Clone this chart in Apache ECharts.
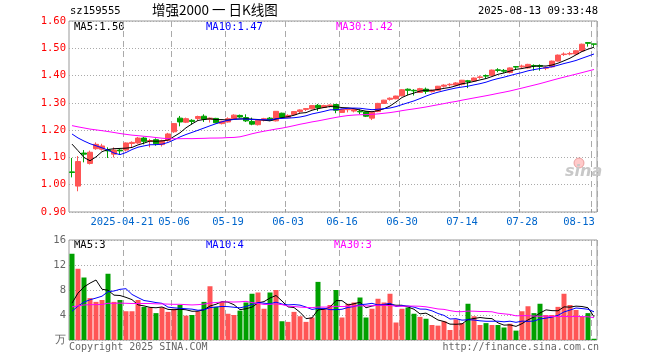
<!DOCTYPE html>
<html><head><meta charset="utf-8">
<script src="https://cdn.jsdelivr.net/npm/echarts/dist/echarts.min.js"></script>
<style>html,body{margin:0;padding:0;background:#fff}#c{width:660px;height:360px}</style>
</head><body><div id="c"></div><script>
// ---------- data ----------
const dates = [
'2025-04-08','2025-04-09','2025-04-10','2025-04-11','2025-04-14','2025-04-15','2025-04-16','2025-04-17','2025-04-18','2025-04-21','2025-04-22','2025-04-23','2025-04-24','2025-04-25','2025-04-28','2025-04-29','2025-04-30',
'2025-05-06','2025-05-07','2025-05-08','2025-05-09','2025-05-12','2025-05-13','2025-05-14','2025-05-15','2025-05-16','2025-05-19','2025-05-20','2025-05-21','2025-05-22','2025-05-23','2025-05-26','2025-05-27','2025-05-28','2025-05-29','2025-05-30',
'2025-06-03','2025-06-04','2025-06-05','2025-06-06','2025-06-09','2025-06-10','2025-06-11','2025-06-12','2025-06-13','2025-06-16','2025-06-17','2025-06-18','2025-06-19','2025-06-20','2025-06-23','2025-06-24','2025-06-25','2025-06-26','2025-06-27','2025-06-30',
'2025-07-01','2025-07-02','2025-07-03','2025-07-04','2025-07-07','2025-07-08','2025-07-09','2025-07-10','2025-07-11','2025-07-14','2025-07-15','2025-07-16','2025-07-17','2025-07-18','2025-07-21','2025-07-22','2025-07-23','2025-07-24','2025-07-25','2025-07-28','2025-07-29','2025-07-30','2025-07-31',
'2025-08-01','2025-08-04','2025-08-05','2025-08-06','2025-08-07','2025-08-08','2025-08-11','2025-08-12','2025-08-13'];
const openP = [1.047,0.995,1.116,1.078,1.132,1.130,1.127,1.112,1.127,1.127,1.151,1.153,1.171,1.159,1.165,1.147,1.162,
1.194,1.244,1.229,1.236,1.243,1.251,1.240,1.243,1.224,1.230,1.242,1.254,1.246,1.232,1.220,1.236,1.244,1.234,1.262,
1.246,1.257,1.268,1.276,1.278,1.291,1.283,1.289,1.294,1.265,1.275,1.270,1.269,1.267,1.244,1.268,1.298,1.313,1.315,1.326,
1.350,1.346,1.338,1.350,1.341,1.346,1.361,1.366,1.365,1.368,1.381,1.380,1.393,1.400,1.401,1.421,1.419,1.411,1.433,1.432,1.428,1.437,1.437,
1.427,1.432,1.453,1.477,1.479,1.479,1.490,1.521,1.516];
const highP = [1.098,1.105,1.127,1.125,1.155,1.150,1.137,1.137,1.131,1.155,1.159,1.175,1.175,1.168,1.170,1.165,1.190,
1.226,1.252,1.246,1.240,1.253,1.258,1.246,1.245,1.234,1.247,1.258,1.257,1.258,1.246,1.240,1.245,1.248,1.270,1.264,
1.258,1.270,1.276,1.281,1.292,1.296,1.293,1.294,1.296,1.278,1.278,1.278,1.276,1.268,1.267,1.300,1.311,1.320,1.326,1.350,
1.353,1.350,1.355,1.356,1.348,1.362,1.368,1.372,1.376,1.384,1.384,1.393,1.400,1.404,1.422,1.427,1.424,1.430,1.434,1.440,1.443,1.441,1.441,
1.433,1.455,1.477,1.485,1.487,1.493,1.517,1.522,1.517];
const lowP = [1.027,0.976,1.082,1.074,1.128,1.125,1.098,1.100,1.110,1.122,1.137,1.150,1.148,1.137,1.143,1.140,1.158,
1.190,1.214,1.226,1.220,1.235,1.230,1.228,1.225,1.221,1.228,1.240,1.245,1.230,1.218,1.217,1.232,1.233,1.232,1.244,
1.244,1.255,1.262,1.270,1.276,1.270,1.281,1.283,1.262,1.263,1.265,1.265,1.259,1.248,1.237,1.266,1.296,1.308,1.313,1.324,
1.328,1.327,1.336,1.333,1.338,1.344,1.356,1.360,1.362,1.364,1.354,1.378,1.388,1.388,1.399,1.412,1.410,1.408,1.422,1.428,1.426,1.418,1.418,
1.420,1.430,1.451,1.472,1.474,1.477,1.488,1.506,1.506];
const closeP = [1.045,1.085,1.112,1.119,1.148,1.142,1.124,1.127,1.124,1.153,1.155,1.171,1.159,1.162,1.150,1.161,1.186,
1.224,1.230,1.242,1.232,1.250,1.240,1.244,1.227,1.232,1.242,1.255,1.248,1.234,1.222,1.236,1.242,1.236,1.269,1.246,
1.254,1.268,1.274,1.279,1.290,1.282,1.290,1.292,1.273,1.276,1.277,1.276,1.267,1.251,1.266,1.298,1.310,1.317,1.325,1.348,
1.346,1.344,1.352,1.342,1.346,1.361,1.365,1.368,1.373,1.383,1.378,1.391,1.395,1.398,1.420,1.419,1.416,1.428,1.431,1.435,1.441,1.435,1.434,
1.430,1.453,1.475,1.479,1.481,1.491,1.515,1.518,1.515];
// volume, unit 万
const volume = [13.8,11.4,10.0,6.7,6.1,6.4,10.6,6.1,6.4,4.6,4.6,6.4,5.3,5.2,4.3,5.2,4.5,
5.0,5.6,3.9,4.0,4.6,6.1,8.6,5.3,6.1,4.2,4.0,4.7,6.0,7.4,7.6,5.0,7.6,8.0,3.0,
2.9,4.5,3.8,2.9,3.6,9.3,5.0,5.6,8.0,3.6,5.8,6.0,6.8,3.6,5.0,6.6,6.0,7.4,2.8,5.0,
5.2,4.2,3.7,3.4,2.4,2.3,3.0,1.6,3.3,2.7,5.8,3.8,2.4,2.7,2.4,2.4,2.0,2.6,1.5,4.6,5.4,4.3,5.8,
4.0,4.0,5.3,7.4,5.6,4.8,3.7,4.3,0.2];
// closes / volumes before the visible window, inferred from where the MA lines start
const priorCloses = [1.225,1.232,1.240,1.236,1.228,1.222,1.230,1.238,1.245,1.240,1.232,1.226,1.220,1.228,1.235,1.240,1.232,1.225,1.230,1.236,
1.230,1.225,1.218,1.222,1.220,1.205,1.237,1.179,1.078];
const priorVolumes = [6.5,5.8,5.2,6.0,5.4,5.0,6.2,5.6,5.3,5.9,6.1,5.5,5.2,5.8,5.4,5.7,5.9,5.5,5.6,5.4,
3.2,3.5,3.0,3.4,3.4,3.4,5.0,3.7,3.6];
const tickDates = ['2025-04-21','2025-05-06','2025-05-19','2025-06-03','2025-06-16','2025-06-30','2025-07-14','2025-07-28','2025-08-13'];
const priceLegend = ['MA5:1.50','MA10:1.47','MA30:1.42'];
const volLegend = ['MA5:3','MA10:4','MA30:3'];
const headerCode = 'sz159555';
const headerTitle = '增强2000 一 日K线图';
const headerTime = '2025-08-13 09:33:48';

// ---------- build ----------
const RED = '#ff5555', GREEN = '#00a000';
const MA_COLORS = ['#000000', '#0000ff', '#ff00ff'];
const MONO = '"DejaVu Sans Mono", "Liberation Mono", monospace';
function ma(prior, vals, n) {
  const all = prior.concat(vals);
  return vals.map((_, i) => {
    const end = prior.length + i; let s = 0;
    for (let k = end - n + 1; k <= end; k++) s += all[k];
    return +(s / n).toFixed(4);
  });
}
const kData = dates.map((d, i) => [openP[i], closeP[i], lowP[i], highP[i]]);
const volData = volume.map((v, i) => ({ value: v, itemStyle: { color: closeP[i] >= openP[i] ? RED : GREEN } }));
const isTick = (idx, val) => tickDates.indexOf(val) >= 0;
const dashed = { show: true, interval: isTick, lineStyle: { color: '#aaa', type: [6, 4], width: 1 } };
const dotted = { show: true, lineStyle: { color: '#aaa', type: [1, 2], width: 1 } };

const chart = echarts.init(document.getElementById('c'), null, { renderer: 'canvas' });
const gridStyle = { show: true, borderColor: '#999', borderWidth: 1, backgroundColor: 'transparent' };
const lineSeries = (data, color, xi, yi) => ({ type: 'line', data, xAxisIndex: xi, yAxisIndex: yi, showSymbol: false, symbol: 'none',
  lineStyle: { color, width: 1 }, animation: false, silent: true, z: 3 });
const labelRich = {
  first: { padding: [0, 8, 0, 0], color: '#0066cc', fontFamily: MONO, fontSize: 10.5 },
  last: { padding: [0, 30, 0, 0], color: '#0066cc', fontFamily: MONO, fontSize: 10.5 }
};
function xLabel(v) {
  if (v === tickDates[0]) return '{first|' + v + '}';
  if (v === tickDates[tickDates.length - 1]) return '{last|' + v.slice(5) + '}';
  return v.slice(5);
}

chart.setOption({
  animation: false,
  backgroundColor: '#fff',
  grid: [
    Object.assign({ left: 69, top: 21, width: 528, height: 191 }, gridStyle),
    Object.assign({ left: 69, top: 240, width: 528, height: 100 }, gridStyle)
  ],
  xAxis: [
    { type: 'category', data: dates, gridIndex: 0, boundaryGap: true,
      axisLine: { show: false },
      axisTick: { show: true, inside: true, length: 3, interval: isTick, lineStyle: { color: '#999' } },
      axisLabel: { interval: isTick, hideOverlap: false, margin: 5, color: '#0066cc', fontFamily: MONO, fontSize: 10.5,
        formatter: xLabel, rich: labelRich },
      splitLine: dashed },
    { type: 'category', data: dates, gridIndex: 1, boundaryGap: true,
      axisLine: { show: false }, axisTick: { show: false }, axisLabel: { show: false },
      splitLine: dashed }
  ],
  yAxis: [
    { type: 'value', gridIndex: 0, min: 0.9, max: 1.6, interval: 0.1,
      axisLine: { show: false }, axisTick: { show: false },
      axisLabel: { color: '#ff0000', fontFamily: MONO, fontSize: 10.5, margin: 3, formatter: v => v.toFixed(2) },
      splitLine: dotted },
    { type: 'value', gridIndex: 1, min: 0, max: 16, interval: 4,
      axisLine: { show: false }, axisTick: { show: false },
      axisLabel: { color: '#666', fontFamily: MONO, fontSize: 10.5, margin: 3, formatter: v => v === 0 ? '万' : String(v) },
      splitLine: dotted }
  ],
  series: [
    { type: 'candlestick', data: kData, xAxisIndex: 0, yAxisIndex: 0, barWidth: 5, z: 2,
      itemStyle: { color: RED, color0: GREEN, borderColor: RED, borderColor0: GREEN, borderWidth: 1 } },
    lineSeries(ma(priorCloses, closeP, 5), MA_COLORS[0], 0, 0),
    lineSeries(ma(priorCloses, closeP, 10), MA_COLORS[1], 0, 0),
    lineSeries(ma(priorCloses, closeP, 30), MA_COLORS[2], 0, 0),
    { type: 'bar', data: volData, xAxisIndex: 1, yAxisIndex: 1, barWidth: 5, z: 2 },
    lineSeries(ma(priorVolumes, volume, 5), MA_COLORS[0], 1, 1),
    lineSeries(ma(priorVolumes, volume, 10), MA_COLORS[1], 1, 1),
    lineSeries(ma(priorVolumes, volume, 30), MA_COLORS[2], 1, 1)
  ],
  graphic: [
    { type: 'text', left: 70, top: 6, style: { text: headerCode, fill: '#000', font: '10.5px ' + MONO } },
    { type: 'text', left: 152, top: 3, style: { text: headerTitle, fill: '#000', font: '13.5px "Noto Sans CJK SC", sans-serif' } },
    { type: 'text', right: 62, top: 6, style: { text: headerTime, fill: '#000', font: '10.5px ' + MONO } },
    { type: 'text', left: 74, top: 22, style: { text: priceLegend[0], fill: MA_COLORS[0], font: '10.5px ' + MONO } },
    { type: 'text', left: 206, top: 22, style: { text: priceLegend[1], fill: MA_COLORS[1], font: '10.5px ' + MONO } },
    { type: 'text', left: 336, top: 22, style: { text: priceLegend[2], fill: MA_COLORS[2], font: '10.5px ' + MONO } },
    { type: 'text', left: 74, top: 240, style: { text: volLegend[0], fill: MA_COLORS[0], font: '10.5px ' + MONO } },
    { type: 'text', left: 206, top: 240, style: { text: volLegend[1], fill: MA_COLORS[1], font: '10.5px ' + MONO } },
    { type: 'text', left: 334, top: 240, style: { text: volLegend[2], fill: MA_COLORS[2], font: '10.5px ' + MONO } },
    { type: 'text', left: 69, top: 342, style: { text: 'Copyright 2025 SINA.COM', fill: '#666', font: '10px ' + MONO } },
    { type: 'text', right: 61, top: 342, style: { text: 'http://finance.sina.com.cn', fill: '#666', font: '10px ' + MONO } },
    { type: 'circle', shape: { cx: 579, cy: 163, r: 5 }, style: { fill: 'rgba(255,150,150,0.5)', stroke: 'rgba(220,120,120,0.6)' }, z: 1 },
    { type: 'text', left: 565, top: 164, z: 1, style: { text: 'sina', fill: '#c8c8c8', font: 'italic bold 16px "DejaVu Sans", sans-serif' } }
  ]
});
</script></body></html>
